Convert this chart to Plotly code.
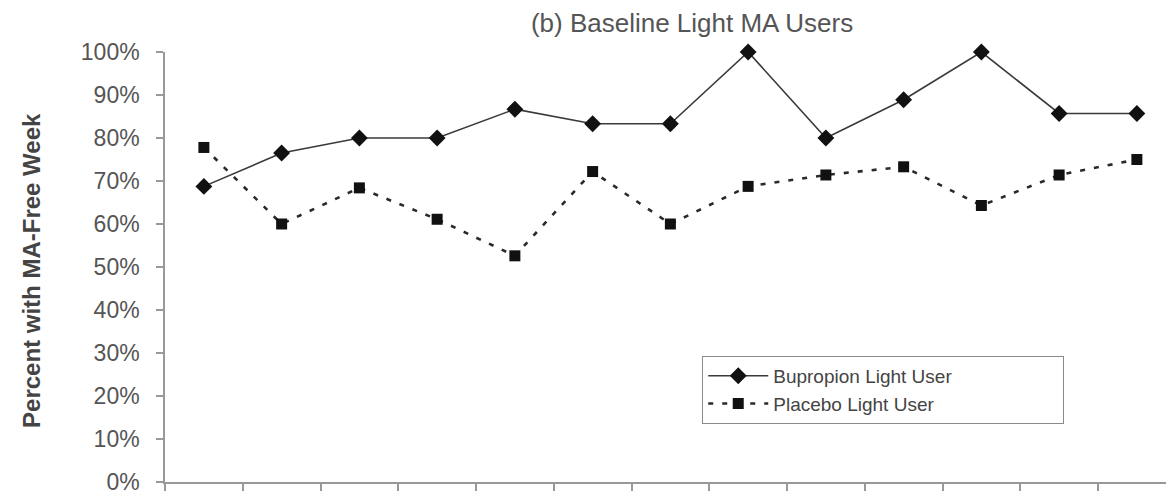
import plotly.graph_objects as go

weeks = list(range(1, 14))
bupropion = [68.75, 76.5, 80.0, 80.0, 86.7, 83.3, 83.3, 100.0, 80.0, 88.9, 100.0, 85.7, 85.7]
placebo = [77.8, 60.0, 68.4, 61.1, 52.6, 72.2, 60.0, 68.75, 71.4, 73.3, 64.3, 71.4, 75.0]
y_ticks = [0, 10, 20, 30, 40, 50, 60, 70, 80, 90, 100]
y_tick_labels = [f"{v}%" for v in y_ticks]

FONT = "Liberation Sans, Arial, sans-serif"
PAD = "\u00a0" * 20

fig = go.Figure()
fig.add_trace(go.Scatter(
    x=weeks, y=bupropion, name="Bupropion Light User" + PAD,
    mode="lines+markers",
    line=dict(color="#3a3a3a", width=1.6),
    marker=dict(symbol="diamond", size=13, color="#111111"),
    cliponaxis=False,
))
fig.add_trace(go.Scatter(
    x=weeks, y=placebo, name="Placebo Light User",
    mode="lines+markers",
    line=dict(color="#2a2a2a", width=2.6, dash="5px,9px"),
    marker=dict(symbol="square", size=11, color="#111111"),
    cliponaxis=False,
))

fig.update_layout(
    width=1166, height=495,
    margin=dict(l=165, r=0, t=52, b=7),
    paper_bgcolor="white", plot_bgcolor="white",
    font=dict(family=FONT, color="#555555"),
    showlegend=True,
    legend=dict(
        x=0.5365, y=0.2936, xanchor="left", yanchor="top",
        bordercolor="#8a8a8a", borderwidth=1.2,
        font=dict(size=19, color="#444444", family=FONT),
        bgcolor="white", itemwidth=60,
    ),
    title=dict(
        text="(b) Baseline Light MA Users",
        x=0.5265, xref="paper", xanchor="center",
        y=1 - 23 / 495, yref="container", yanchor="middle",
        font=dict(size=26, color="#555555", family=FONT),
    ),
    xaxis=dict(
        range=[0.5, 0.5 + (1166 - 165) / 77.75],
        showgrid=False, zeroline=False,
        showline=True, linecolor="#999999", linewidth=1.5,
        ticks="outside", ticklen=7, tickcolor="#999999", tickwidth=1.5,
        tick0=0.5, dtick=1, tickmode="linear",
        showticklabels=False,
    ),
    yaxis=dict(
        range=[0, 100],
        tickvals=y_ticks, ticktext=y_tick_labels,
        showgrid=False, zeroline=False,
        showline=True, linecolor="#999999", linewidth=1.5,
        ticks="outside", ticklen=7, tickcolor="#999999", tickwidth=1.5,
        ticklabelstandoff=12, ticklabeloverflow="allow",
        tickfont=dict(size=23, color="#555555", family=FONT),
    ),
    annotations=[dict(
        text="<b>Percent with MA-Free Week</b>",
        textangle=-90, xref="paper", yref="paper",
        x=(32 - 165) / 1001, y=(488 - 274) / 436,
        xanchor="center", yanchor="middle", showarrow=False,
        font=dict(size=24, color="#444444", family=FONT),
    )],
)

fig.write_html("out.html")
